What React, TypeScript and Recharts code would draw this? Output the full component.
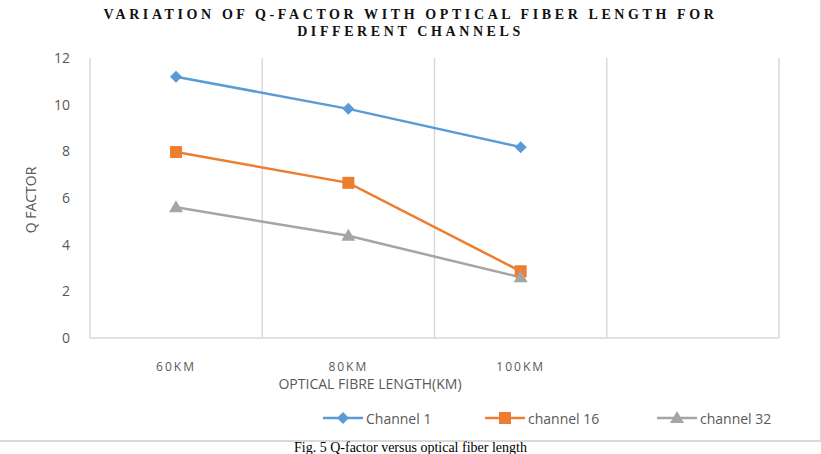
import { CartesianGrid, LineChart, Line, XAxis, YAxis } from "recharts";

const lengths = ["60KM", "80KM", "100KM", ""];
const channel1 = [11.2, 9.82, 8.18, null];
const channel16 = [7.97, 6.65, 2.86, null];
const channel32 = [5.6, 4.38, 2.6, null];
const yTicks = [0, 2, 4, 6, 8, 10, 12];

const data = lengths.map((name, i) => ({
  name,
  ch1: channel1[i],
  ch16: channel16[i],
  ch32: channel32[i],
}));

const BLUE = "#5b9bd5";
const ORANGE = "#ed7d31";
const GRAY = "#a5a5a5";
const AXIS_TEXT = "#595959";
const LINE_GRID = "#d9d9d9";
const SANS = "'Open Sans', Lato, sans-serif";

const Diamond = ({ cx, cy, fill }: any) =>
  cx == null || cy == null ? null : (
    <path d={`M${cx},${cy - 6}L${cx + 6},${cy}L${cx},${cy + 6}L${cx - 6},${cy}Z`} fill={fill} />
  );

const Square = ({ cx, cy, fill }: any) =>
  cx == null || cy == null ? null : <rect x={cx - 6} y={cy - 6} width={12} height={12} fill={fill} />;

const Triangle = ({ cx, cy, fill }: any) =>
  cx == null || cy == null ? null : (
    <path d={`M${cx},${cy - 7}L${cx + 7},${cy + 5}L${cx - 7},${cy + 5}Z`} fill={fill} />
  );

const legendItems = [
  { label: "Channel 1", color: BLUE, Marker: Diamond, left: 323 },
  { label: "channel 16", color: ORANGE, Marker: Square, left: 485 },
  { label: "channel 32", color: GRAY, Marker: Triangle, left: 657 },
];

export default function App() {
  return (
    <div style={{ position: "absolute", left: 0, top: 0, width: 821, height: 454, background: "#fff", overflow: "hidden" }}>
      <div
        style={{
          position: "absolute",
          left: 0,
          top: 0,
          width: 820,
          height: 440,
          borderRight: `2px solid ${LINE_GRID}`,
          borderBottom: `2px solid ${LINE_GRID}`,
        }}
      />
      <div
        style={{
          position: "absolute",
          top: 6,
          left: 0,
          width: 821,
          textAlign: "center",
          fontFamily: "'Liberation Serif', 'Times New Roman', serif",
          fontWeight: "bold",
          fontSize: 14,
          letterSpacing: 3.6,
          lineHeight: "17px",
          color: "#111",
        }}
      >
        VARIATION OF Q-FACTOR WITH OPTICAL FIBER LENGTH FOR
        <br />
        DIFFERENT CHANNELS
      </div>

      {/* four bands, the last one empty; points sit in the band centres */}
      <LineChart width={821} height={440} data={data} margin={{ top: 58, right: 42, bottom: 72, left: 0 }}>
        <CartesianGrid
          horizontal={false}
          stroke={LINE_GRID}
          strokeWidth={1.5}
          verticalCoordinatesGenerator={({ offset }: any) =>
            [0, 1, 2, 3, 4].map((i) => offset.left + (i * offset.width) / 4)
          }
        />
        <XAxis
          dataKey="name"
          padding={{ left: 86, right: 86 }}
          axisLine={{ stroke: LINE_GRID, strokeWidth: 1.5 }}
          tickLine={false}
          tickSize={0}
          tickMargin={24}
          tick={{ fill: AXIS_TEXT, fontSize: 12, fontFamily: SANS, letterSpacing: 2 }}
          interval={0}
        />
        <YAxis
          width={90}
          domain={[0, 12]}
          ticks={yTicks}
          axisLine={false}
          tickLine={false}
          tickSize={0}
          tickMargin={20}
          tick={{ fill: AXIS_TEXT, fontSize: 14, fontFamily: SANS }}
        />
        <Line
          dataKey="ch1"
          stroke={BLUE}
          strokeWidth={2.5}
          dot={<Diamond fill={BLUE} />}
          activeDot={false}
          isAnimationActive={false}
        />
        <Line
          dataKey="ch16"
          stroke={ORANGE}
          strokeWidth={2.5}
          dot={<Square fill={ORANGE} />}
          activeDot={false}
          isAnimationActive={false}
        />
        <Line
          dataKey="ch32"
          stroke={GRAY}
          strokeWidth={2.5}
          dot={<Triangle fill={GRAY} />}
          activeDot={false}
          isAnimationActive={false}
        />
      </LineChart>

      <div
        style={{
          position: "absolute",
          left: 12,
          top: 200,
          transform: "translate(-50%, -50%) rotate(-90deg)",
          transformOrigin: "center",
          marginLeft: 18,
          fontFamily: SANS,
          fontSize: 14,
          color: AXIS_TEXT,
          whiteSpace: "nowrap",
        }}
      >
        Q FACTOR
      </div>
      <div
        style={{
          position: "absolute",
          left: 370,
          top: 374,
          transform: "translateX(-50%)",
          fontFamily: SANS,
          fontSize: 14,
          color: AXIS_TEXT,
          whiteSpace: "nowrap",
        }}
      >
        OPTICAL FIBRE LENGTH(KM)
      </div>

      {legendItems.map(({ label, color, Marker, left }) => (
        <div
          key={label}
          style={{ position: "absolute", left, top: 408, display: "flex", alignItems: "center", height: 20 }}
        >
          <svg width={42} height={20}>
            <line x1={0} y1={10} x2={40} y2={10} stroke={color} strokeWidth={2.5} />
            <Marker cx={20} cy={10} fill={color} />
          </svg>
          <span style={{ fontFamily: SANS, fontSize: 14, color: AXIS_TEXT, marginLeft: 1 }}>{label}</span>
        </div>
      ))}

      <div
        style={{
          position: "absolute",
          left: 0,
          top: 442,
          width: 821,
          textAlign: "center",
          fontFamily: "'Liberation Serif', 'Times New Roman', serif",
          fontSize: 14,
          lineHeight: "12px",
          color: "#000",
        }}
      >
        Fig. 5 Q-factor versus optical fiber length
      </div>
    </div>
  );
}
